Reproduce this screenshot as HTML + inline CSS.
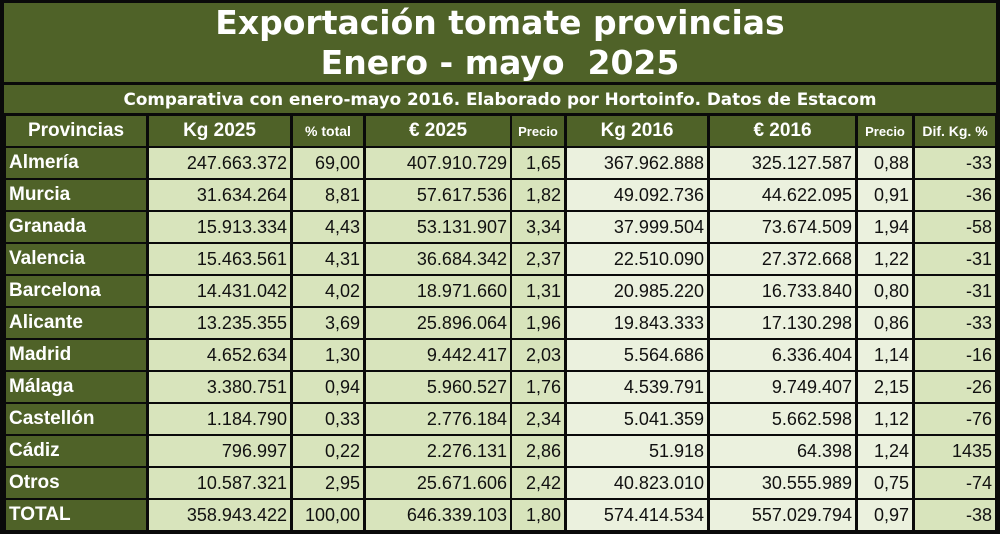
<!DOCTYPE html>
<html><head><meta charset="utf-8"><style>
body{margin:0;width:1000px;height:535px;background:#fff;overflow:hidden;font-family:"Liberation Sans",sans-serif}
#w{position:absolute;left:0;top:0;width:1000px;height:534px;background:#0a0a0a}
.c{position:absolute;box-sizing:border-box;display:flex;align-items:center;white-space:nowrap}
.g{background:#4f6228;color:#fff;font-weight:bold}
.h{justify-content:center}
.l{background:#d8e4bc;color:#111;justify-content:flex-end;padding-right:3px;font-size:18px}
.m{background:#ebf1de;color:#111;justify-content:flex-end;padding-right:3px;font-size:18px}
.p{padding-left:3px;font-size:19px}
.t{font-family:"DejaVu Sans",sans-serif;text-align:center;display:block}
</style></head><body><div id="w">
<div class="c g t" style="left:4px;top:3px;width:992px;height:79px;font-size:33px;line-height:40px;padding-top:0px">Exportación tomate provincias<br>Enero - mayo&nbsp; 2025</div>
<div class="c g t" style="left:4px;top:85px;width:992px;height:28px;font-size:16.8px;line-height:28px">Comparativa con enero-mayo 2016. Elaborado por Hortoinfo. Datos de Estacom</div>
<div id="t"></div>
</div>
<script>
var cols=[[6,140],[149,141],[293,70],[366,144],[512,52],[567,140],[710,145],[858,54],[915,80]];
var hd=["Provincias","Kg 2025","% total","€ 2025","Precio","Kg 2016","€ 2016","Precio","Dif. Kg. %"];
var hs=[19,19,14,19,13,19,19,13,14];
var rows=[
["Almería","247.663.372","69,00","407.910.729","1,65","367.962.888","325.127.587","0,88","-33"],
["Murcia","31.634.264","8,81","57.617.536","1,82","49.092.736","44.622.095","0,91","-36"],
["Granada","15.913.334","4,43","53.131.907","3,34","37.999.504","73.674.509","1,94","-58"],
["Valencia","15.463.561","4,31","36.684.342","2,37","22.510.090","27.372.668","1,22","-31"],
["Barcelona","14.431.042","4,02","18.971.660","1,31","20.985.220","16.733.840","0,80","-31"],
["Alicante","13.235.355","3,69","25.896.064","1,96","19.843.333","17.130.298","0,86","-33"],
["Madrid","4.652.634","1,30","9.442.417","2,03","5.564.686","6.336.404","1,14","-16"],
["Málaga","3.380.751","0,94","5.960.527","1,76","4.539.791","9.749.407","2,15","-26"],
["Castellón","1.184.790","0,33","2.776.184","2,34","5.041.359","5.662.598","1,12","-76"],
["Cádiz","796.997","0,22","2.276.131","2,86","51.918","64.398","1,24","1435"],
["Otros","10.587.321","2,95","25.671.606","2,42","40.823.010","30.555.989","0,75","-74"],
["TOTAL","358.943.422","100,00","646.339.103","1,80","574.414.534","557.029.794","0,97","-38"]];
var h="";
cols.forEach(function(c,i){h+='<div class="c g h" style="left:'+c[0]+'px;top:116px;width:'+c[1]+'px;height:30px;font-size:'+hs[i]+'px">'+hd[i]+'</div>';});
rows.forEach(function(r,j){var y=148+32*j;r.forEach(function(v,i){var c=cols[i];var cl=i==0?"g p":(i>=5&&i<=7?"m":"l");
h+='<div class="c '+cl+'" style="left:'+c[0]+'px;top:'+y+'px;width:'+c[1]+'px;height:30px">'+v+'</div>';});});
document.getElementById("t").innerHTML=h;
</script></body></html>
